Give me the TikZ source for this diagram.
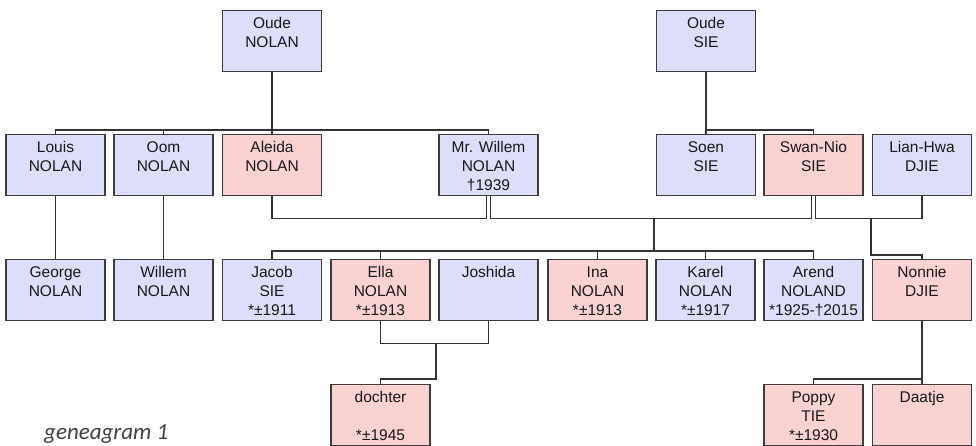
\documentclass[tikz,border=0pt]{standalone}
\usepackage{fontspec}
\setmainfont{Liberation Sans}
\newfontfamily\bijschrift{Carlito}
\usepackage{xcolor}
\definecolor{blauw}{RGB}{221,222,250}
\definecolor{roze}{RGB}{250,210,210}
\definecolor{rand}{RGB}{60,60,60}
\newcommand{\tekst}[1]{\parbox[t][51pt][t]{95pt}{\centering\strut #1}}
\tikzset{
	persoon/.style={draw=rand, line width=1.3pt, anchor=north, minimum width=99pt, minimum height=61pt,
		inner xsep=2pt, inner ysep=5pt, font=\fontsize{15.5}{18.7}\selectfont, text=black!90},
	man/.style={persoon, fill=blauw},
	vrouw/.style={persoon, fill=roze},
	lijn/.style={line width=1.3pt, draw=black!80}
}

\begin{document}
\begin{tikzpicture}[x=1pt,y=-1pt]
						\useasboundingbox (0,0) rectangle (976,445);
						\node[man] (oudeNolan) at (272,10) {\tekst{Oude\\NOLAN}};
						\node[man] (oudeSie) at (706,10) {\tekst{Oude\\SIE}};
						\node[man] (louis) at (55.5,134) {\tekst{Louis\\NOLAN}};
						\node[man] (oom) at (163.5,134) {\tekst{Oom\\NOLAN}};
						\node[vrouw] (aleida) at (272,134) {\tekst{Aleida\\NOLAN}};
						\node[man] (willem) at (488.5,134) {\tekst{Mr. Willem\\NOLAN\\†1939}};
						\node[man] (soen) at (706,134) {\tekst{Soen\\SIE}};
						\node[vrouw] (swanNio) at (813.5,134) {\tekst{Swan-Nio\\SIE}};
						\node[man] (lianHwa) at (922,134) {\tekst{Lian-Hwa\\DJIE}};
						\node[man] (george) at (55.5,259) {\tekst{George\\NOLAN}};
						\node[man] (willemJr) at (163.5,259) {\tekst{Willem\\NOLAN}};
						\node[man] (jacob) at (272,259) {\tekst{Jacob\\SIE\\{}*±1911}};
						\node[vrouw] (ella) at (380.5,259) {\tekst{Ella\\NOLAN\\{}*±1913}};
						\node[man] (joshida) at (488.5,259) {\tekst{Joshida}};
						\node[vrouw] (ina) at (597.5,259) {\tekst{Ina\\NOLAN\\{}*±1913}};
						\node[man] (karel) at (705.5,259) {\tekst{Karel\\NOLAN\\{}*±1917}};
						\node[man] (arend) at (813.5,259) {\tekst{Arend\\NOLAND\\{}*1925-†2015}};
						\node[vrouw] (nonnie) at (922,259) {\tekst{Nonnie\\DJIE}};
						\node[vrouw] (dochter) at (380.5,384) {\tekst{dochter\\[18.7pt]{}*±1945}};
						\node[vrouw] (poppy) at (813.5,384) {\tekst{Poppy\\TIE\\{}*±1930}};
						\node[vrouw] (daatje) at (922,384) {\tekst{Daatje}};
						\node[anchor=base west, inner sep=0pt, text=black!75, font=\bijschrift\itshape\fontsize{23}{26}\selectfont] (onderschrift) at (44,439.5) {geneagram 1};
						\coordinate (huwelijk) at (654,218);
						\coordinate (huwelijkDjie) at (871,218);
						\coordinate (huwelijkElla) at (436,343);
						\draw[lijn] (oudeNolan.south) -- (aleida.north);
						\draw[lijn] (louis.north) -- ++(0,-4) -| (willem.north);
						\draw[lijn] (oom.north) -- ++(0,-4);
						\draw[lijn] (oudeSie.south) -- (soen.north);
						\draw[lijn] (soen.north) -- ++(0,-4) -| (swanNio.north);
						\draw[lijn] (louis.south) -- (george.north);
						\draw[lijn] (oom.south) -- (willemJr.north);
						\draw[lijn] (aleida.south) -- ++(0,22) -| ([xshift=-2pt]willem.south);
						\draw[lijn] ([xshift=2pt]willem.south) -- ++(0,22) -| ([xshift=-2pt]swanNio.south);
						\draw[lijn] ([xshift=2pt]swanNio.south) -- ++(0,22) -| (lianHwa.south);
						\draw[lijn] (huwelijk) -- ++(0,33);
						\draw[lijn] (jacob.north) -- ++(0,-8) -| (arend.north);
						\draw[lijn] (ella.north) -- ++(0,-8);
						\draw[lijn] (ina.north) -- ++(0,-8);
						\draw[lijn] (karel.north) -- ++(0,-8);
						\draw[lijn] (huwelijkDjie) -- ++(0,37) -| (nonnie.north);
						\draw[lijn] (ella.south) -- ++(0,22) -| (joshida.south);
						\draw[lijn] (huwelijkElla) -- ++(0,36) -| (dochter.north);
						\draw[lijn] (nonnie.south) -- (daatje.north);
						\draw[lijn] (poppy.north) -- ++(0,-5) -| (daatje.north);
					\end{tikzpicture}
\end{document}
